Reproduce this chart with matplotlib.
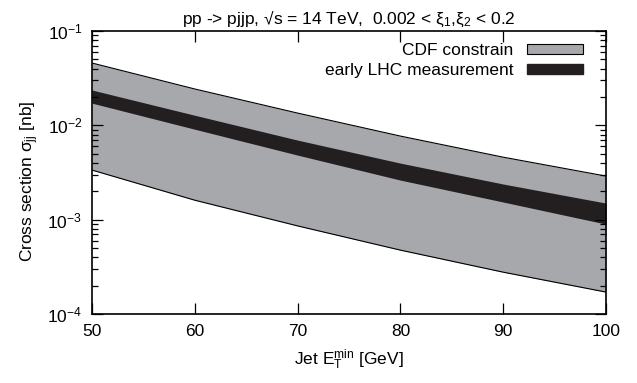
import matplotlib
matplotlib.use('Agg')
from matplotlib import pyplot as plt
from matplotlib.patches import Patch
from matplotlib.ticker import LogLocator, FuncFormatter, NullFormatter
import numpy as np

plt.rcParams['font.family'] = ['Liberation Sans', 'DejaVu Sans']
plt.rcParams['mathtext.fontset'] = 'custom'
plt.rcParams['mathtext.rm'] = 'Liberation Sans'
plt.rcParams['mathtext.it'] = 'Liberation Sans'
plt.rcParams['mathtext.sf'] = 'Liberation Sans'

# jet E_T^min [GeV]
et = [50, 60, 70, 80, 90, 100]
# CDF constrained band [nb]
cdf_hi = [4.58e-2, 2.43e-2, 1.35e-2, 7.7e-3, 4.6e-3, 2.9e-3]
cdf_lo = [3.36e-3, 1.61e-3, 8.6e-4, 4.76e-4, 2.78e-4, 1.71e-4]
# early LHC measurement band [nb]
lhc_hi = [2.37e-2, 1.28e-2, 6.98e-3, 3.98e-3, 2.39e-3, 1.50e-3]
lhc_lo = [1.72e-2, 9.1e-3, 4.84e-3, 2.63e-3, 1.54e-3, 8.98e-4]

gray = '#a7a8ab'
dark = '#231f20'
fs = 12.5

fig = plt.figure(figsize=(6.37, 3.83), dpi=100)
ax = fig.add_axes([0.1444, 0.180, 0.8069, 0.739])

ax.fill_between(et, cdf_lo, cdf_hi, color=gray, lw=0)
ax.plot(et, cdf_hi, color='k', lw=0.8)
ax.plot(et, cdf_lo, color='k', lw=0.8)
ax.fill_between(et, lhc_lo, lhc_hi, color=dark, lw=0)

ax.set_yscale('log')
ax.set_xlim(50, 100)
ax.set_ylim(1e-4, 1e-1)
ax.set_xticks([50, 60, 70, 80, 90, 100])
ax.yaxis.set_major_locator(LogLocator(base=10, numticks=10))
ax.yaxis.set_minor_locator(LogLocator(base=10, subs=np.arange(2, 10), numticks=10))
ax.yaxis.set_minor_formatter(NullFormatter())
ax.yaxis.set_major_formatter(FuncFormatter(lambda v, p: r'10$^{%d}$' % round(np.log10(v))))
ax.tick_params(which='both', direction='in', top=True, right=True, labelsize=fs, pad=7)
ax.tick_params(which='major', length=8, width=0.9)
ax.tick_params(which='minor', length=4, width=0.9)
for s in ax.spines.values():
    s.set_linewidth(1.2)

ax.set_xlabel(r'Jet E$_\mathrm{T}^\mathrm{min}$ [GeV]', fontsize=fs, labelpad=6)
ax.set_ylabel('Cross section \u03c3$_\\mathrm{jj}$ [nb]', fontsize=fs)
ax.yaxis.set_label_coords(-0.1, 0.47)
ax.set_title('pp -> pjjp, \u221as = 14 TeV,  0.002 < \u03be$_1$,\u03be$_2$ < 0.2', fontsize=fs, pad=5)

handles = [Patch(facecolor=gray, edgecolor='k', lw=0.8), Patch(facecolor=dark, edgecolor=dark)]
ax.legend(handles, ['CDF constrain', 'early LHC measurement'], loc='upper right',
          bbox_to_anchor=(0.955, 0.958), borderpad=0, borderaxespad=0,
          frameon=False, markerfirst=False, handlelength=3.2, handleheight=0.55,
          fontsize=fs, labelspacing=0.3, handletextpad=0.8)

plt.savefig('out.png', dpi=100)
